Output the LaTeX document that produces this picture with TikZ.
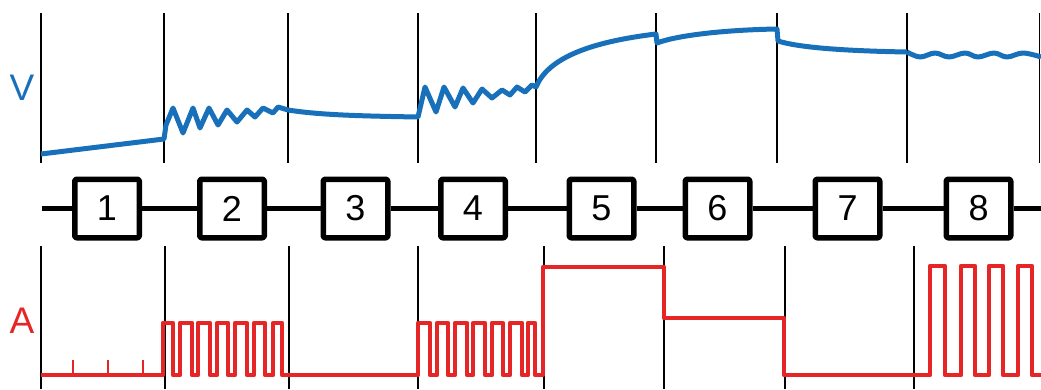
\documentclass[tikz,border=0pt]{standalone}
\usepackage{fontspec}
\setmainfont{Liberation Sans}
\definecolor{vblue}{RGB}{23,112,185}
\definecolor{ared}{RGB}{230,38,38}
\tikzstyle{diag}=[x=1pt, y=-1pt, line join=round]
\tikzstyle{stage}=[draw, line width=5.5pt, rounded corners=2pt, fill=white, minimum width=64.5pt, minimum height=58.5pt, inner sep=0pt, font=\fontsize{36}{40}\selectfont]
\tikzstyle{link}=[-, line width=4.5pt]
\tikzstyle{gridline}=[-, line width=1.5pt, black]
\tikzstyle{vtrace}=[line width=5pt, vblue]
\tikzstyle{atrace}=[line width=4.5pt, ared]
\tikzstyle{spike}=[line width=1.5pt, ared]
\tikzstyle{axisname}=[font=\fontsize{37}{40}\selectfont]
\begin{document}
\begin{tikzpicture}[diag]
	\useasboundingbox (0,0) rectangle (1041,389);
	% grid lines
	\draw[gridline] (41,13) -- (41,163);
	\draw[gridline] (164,13) -- (164,163);
	\draw[gridline] (288,13) -- (288,163);
	\draw[gridline] (418,13) -- (418,163);
	\draw[gridline] (536,13) -- (536,163);
	\draw[gridline] (656,13) -- (656,163);
	\draw[gridline] (777,13) -- (777,163);
	\draw[gridline] (907,13) -- (907,163);
	\draw[gridline] (1039.5,13) -- (1039.5,163);
	%
	\draw[gridline] (41,246) -- (41,389);
	\draw[gridline] (165,246) -- (165,389);
	\draw[gridline] (289,246) -- (289,389);
	\draw[gridline] (418,246) -- (418,389);
	\draw[gridline] (544,246) -- (544,389);
	\draw[gridline] (664,246) -- (664,389);
	\draw[gridline] (785,246) -- (785,389);
	\draw[gridline] (914,246) -- (914,389);
	%
	\draw (22,88) node[axisname, text=vblue] (vname) {V};
	\draw (22,321) node[axisname, text=ared] (aname) {A};
	% voltage trace
	\draw[vtrace] (41,154) -- (164,139) -- (166,125) -- (173,108) -- (183,133) -- (193,108) -- (200,128) -- (209,108) -- (218,125) -- (227,110) -- (237,122) -- (247,110) -- (255,117) -- (263,108) -- (273,113) -- (278,107) -- (288,110)
		.. controls (320,115) and (360,116) .. (418,117)
		-- (425,87) -- (436,112) -- (444,87) -- (455,107) -- (463,88) -- (473,103) -- (482,89) -- (492,98) -- (502,90) -- (510,95) -- (517,87) -- (525,92) -- (532,85) -- (536,87)
		.. controls (548,58) and (590,42) .. (656,34)
		-- (657,43) .. controls (675,36) and (720,30) .. (777,29)
		-- (778,41) .. controls (800,48) and (850,51) .. (907,52);
	\draw[vtrace] plot[smooth, tension=0.6] coordinates {(907,52) (920,57) (935,53) (949,57) (965,53) (978,57) (994,53) (1007,57) (1023,53) (1041,57)};
	% current trace
	\draw[atrace] (41,375) -- (163,375) -- (163,323) -- (173,323) -- (173,375) -- (180,375) -- (180,323) -- (192,323) -- (192,375) -- (198,375) -- (198,323) -- (210,323) -- (210,375) -- (217,375) -- (217,323) -- (228,323) -- (228,375) -- (235,375) -- (235,323) -- (247,323) -- (247,375) -- (254,375) -- (254,323) -- (265,323) -- (265,375) -- (273,375) -- (273,323) -- (282,323) -- (282,375)
		-- (418,375) -- (418,323) -- (430,323) -- (430,375) -- (437,375) -- (437,323) -- (448,323) -- (448,375) -- (455,375) -- (455,323) -- (467,323) -- (467,375) -- (473,375) -- (473,323) -- (485,323) -- (485,375) -- (492,375) -- (492,323) -- (503,323) -- (503,375) -- (510,375) -- (510,323) -- (522,323) -- (522,375) -- (528,375) -- (528,323) -- (535,323) -- (535,375) -- (543,375)
		-- (543,267) -- (664,267) -- (664,318) -- (784,318) -- (784,375)
		-- (930,375) -- (930,266) -- (945,266) -- (945,375) -- (961,375) -- (961,266) -- (975,266) -- (975,375) -- (989,375) -- (989,266) -- (1003,266) -- (1003,375) -- (1018,375) -- (1018,266) -- (1032,266) -- (1032,375) -- (1041,375);
	\draw[spike] (73,375) -- (73,360);
	\draw[spike] (108,375) -- (108,360);
	\draw[spike] (143,375) -- (143,360);
	% stages
	\draw (107,208.5) node[stage] (s1) {1};
	\draw (232,208.5) node[stage] (s2) {2};
	\draw (355.5,208.5) node[stage] (s3) {3};
	\draw (473,208.5) node[stage] (s4) {4};
	\draw (601.5,208.5) node[stage] (s5) {5};
	\draw (717.5,208.5) node[stage] (s6) {6};
	\draw (847.5,208.5) node[stage] (s7) {7};
	\draw (978.5,208.5) node[stage] (s8) {8};
	\coordinate (lstart) at (42,208.5);
	\coordinate (lend) at (1041,208.5);
	\draw[link] (lstart) -- (s1);
	\draw[link] (s1) -- (s2);
	\draw[link] (s2) -- (s3);
	\draw[link] (s3) -- (s4);
	\draw[link] (s4) -- (s5);
	\draw[link] (s5) -- (s6);
	\draw[link] (s6) -- (s7);
	\draw[link] (s7) -- (s8);
	\draw[link] (s8) -- (lend);
\end{tikzpicture}
\end{document}
